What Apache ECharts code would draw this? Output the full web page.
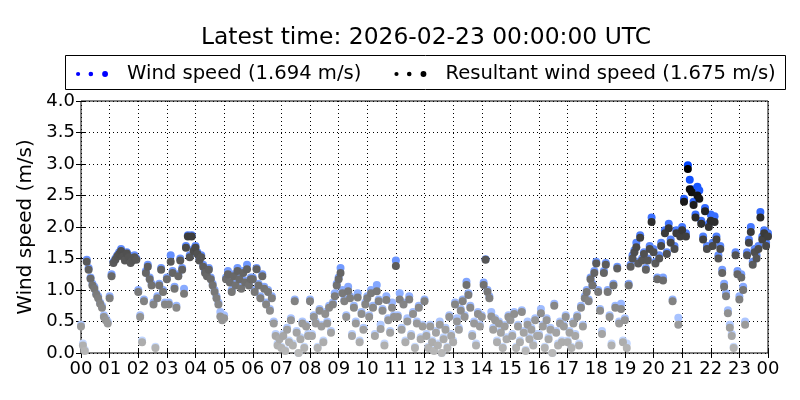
<!DOCTYPE html>
<html>
<head>
<meta charset="utf-8">
<script src="https://cdn.jsdelivr.net/npm/echarts@6/dist/echarts.min.js"></script>
<style>html,body{margin:0;padding:0;background:#fff}#c{width:800px;height:400px}</style>
</head>
<body>
<div id="c"></div>
<script>
// Sampling step in minutes (x positions = index * step)
const stepMinutes = 4;
const xTickLabels = ['00','01','02','03','04','05','06','07','08','09','10','11','12','13','14','15','16','17','18','19','20','21','22','23','00'];
const titleText = 'Latest time: 2026-02-23 00:00:00 UTC';
const seriesNames = ['Wind speed (1.694 m/s)', 'Resultant wind speed (1.675 m/s)'];

// Wind speed (m/s), one row per hour, 4-minute samples
const windSpeed = [
  0.45,0.15,0.05,1.48,1.35,1.2,1.1,1.05,0.95,0.9,0.8,0.75,0.6,0.55,0.5,
  0.9,1.25,1.45,1.5,1.55,1.6,1.65,1.55,1.5,1.6,1.55,1.45,1.5,1.55,1.5,
  1.0,0.6,0.2,0.85,1.3,1.4,1.2,1.1,0.8,0.1,0.9,1.1,1.35,1.0,0.8,
  1.2,0.8,1.55,1.3,1.05,0.75,1.25,1.5,1.35,1.02,1.7,1.87,1.55,1.87,1.65,
  1.7,1.6,1.5,1.55,1.4,1.3,1.25,1.35,1.2,1.1,1.0,0.9,0.8,0.65,0.55,
  0.6,1.2,1.3,1.15,1.0,1.25,1.1,1.35,1.2,1.05,1.3,1.15,1.4,1.1,1.2,
  1.2,1.0,1.35,1.1,0.9,1.25,1.05,0.8,1.0,0.7,0.9,0.5,0.3,0.15,0.25,
  0.1,0.3,0.05,0.4,0.2,0.55,0.15,0.85,0.35,0.0,0.25,0.5,0.1,0.45,0.3,
  0.85,0.3,0.6,0.5,0.1,0.7,0.45,0.2,0.65,0.5,0.75,0.35,0.8,0.95,1.1,
  1.2,1.35,1.0,0.85,0.6,1.05,0.9,0.3,0.75,0.5,0.95,0.2,0.65,0.4,0.8,
  0.9,0.6,1.0,0.75,0.3,1.08,0.85,0.45,0.7,0.15,0.9,0.55,0.35,0.8,0.6,
  1.47,0.6,0.95,0.4,0.8,0.2,0.55,0.9,0.3,0.65,0.1,0.5,0.75,0.25,0.45,
  0.85,0.3,0.1,0.45,0.2,0.05,0.35,0.15,0.5,0.0,0.25,0.4,0.1,0.6,0.3,
  0.2,0.8,0.55,0.4,0.7,0.85,0.6,1.13,0.95,0.75,0.3,0.5,0.15,0.65,0.45,
  0.6,1.12,1.49,1.0,0.9,0.65,0.4,0.55,0.2,0.5,0.35,0.1,0.45,0.25,0.6,
  0.55,0.3,0.65,0.1,0.45,0.2,0.68,0.35,0.05,0.5,0.25,0.4,0.15,0.55,0.3,
  0.3,0.7,0.45,0.1,0.55,0.25,0.4,0.0,0.78,0.35,0.15,0.5,0.2,0.45,0.6,
  0.2,0.35,0.1,0.5,0.3,0.6,0.15,0.75,0.45,0.9,1.0,0.85,1.2,1.1,1.3,
  1.45,1.0,0.7,0.35,1.3,1.43,1.0,0.6,0.15,1.1,0.75,1.37,0.5,0.78,0.2,
  0.55,0.15,1.1,1.4,1.55,1.63,1.75,1.45,1.87,1.5,1.6,1.35,1.5,1.7,2.15,
  1.65,1.45,1.2,1.55,1.75,1.2,1.95,1.6,2.05,1.8,0.85,1.7,1.95,0.56,1.9,
  2.0,2.45,1.9,2.98,2.75,2.6,2.4,2.2,2.64,2.58,2.1,1.85,2.3,1.7,2.05,
  2.2,1.75,2.17,1.85,1.55,1.7,1.32,1.1,0.95,0.68,0.45,0.3,0.1,1.6,1.3,
  0.9,1.25,1.05,0.5,1.6,1.8,2.0,1.45,1.65,1.55,1.7,2.24,1.85,1.95,1.75,
  1.9
];

// Resultant wind speed (m/s), same sampling
const resultantSpeed = [
  0.42,0.12,0.03,1.45,1.32,1.18,1.07,1.02,0.93,0.87,0.78,0.72,0.57,0.52,0.47,
  0.87,1.22,1.43,1.48,1.53,1.57,1.62,1.53,1.47,1.58,1.52,1.43,1.47,1.52,1.48,
  0.97,0.57,0.17,0.82,1.27,1.37,1.17,1.07,0.77,0.08,0.87,1.07,1.32,0.97,0.77,
  1.17,0.77,1.45,1.27,1.02,0.72,1.22,1.47,1.32,0.94,1.67,1.85,1.52,1.85,1.62,
  1.67,1.57,1.47,1.52,1.37,1.27,1.22,1.32,1.17,1.07,0.97,0.87,0.77,0.58,0.52,
  0.55,1.17,1.25,1.12,0.97,1.22,1.07,1.3,1.17,1.02,1.27,1.12,1.33,1.07,1.17,
  1.17,0.97,1.33,1.07,0.87,1.22,1.02,0.77,0.97,0.67,0.87,0.47,0.27,0.12,0.22,
  0.08,0.27,0.03,0.37,0.17,0.52,0.12,0.82,0.32,0.0,0.22,0.47,0.08,0.42,0.27,
  0.82,0.27,0.57,0.47,0.08,0.67,0.42,0.17,0.62,0.47,0.72,0.32,0.77,0.9,1.07,
  1.17,1.27,0.95,0.82,0.57,0.98,0.87,0.27,0.72,0.47,0.88,0.17,0.62,0.37,0.77,
  0.87,0.57,0.95,0.72,0.27,0.98,0.82,0.38,0.67,0.12,0.84,0.52,0.32,0.72,0.57,
  1.38,0.57,0.85,0.37,0.77,0.17,0.5,0.85,0.27,0.62,0.08,0.47,0.72,0.22,0.42,
  0.82,0.27,0.08,0.42,0.17,0.03,0.32,0.12,0.45,0.0,0.22,0.37,0.08,0.57,0.27,
  0.17,0.77,0.5,0.37,0.67,0.82,0.57,1.08,0.92,0.72,0.27,0.47,0.12,0.62,0.42,
  0.57,1.08,1.48,0.97,0.87,0.58,0.37,0.52,0.17,0.47,0.32,0.08,0.42,0.22,0.57,
  0.52,0.27,0.62,0.08,0.42,0.17,0.65,0.32,0.03,0.45,0.22,0.37,0.12,0.52,0.27,
  0.27,0.63,0.42,0.08,0.52,0.22,0.37,0.0,0.75,0.32,0.12,0.47,0.17,0.42,0.57,
  0.17,0.32,0.08,0.47,0.27,0.57,0.12,0.72,0.42,0.87,0.97,0.82,1.17,1.07,1.27,
  1.42,0.97,0.67,0.3,1.27,1.4,0.97,0.57,0.12,1.07,0.72,1.34,0.47,0.7,0.17,
  0.52,0.08,1.07,1.37,1.5,1.6,1.68,1.42,1.83,1.47,1.57,1.32,1.47,1.65,2.08,
  1.6,1.42,1.17,1.5,1.7,1.15,1.9,1.57,1.98,1.75,0.82,1.65,1.9,0.45,1.85,
  1.95,2.4,1.85,2.92,2.6,2.55,2.35,2.15,2.5,2.45,2.05,1.8,2.25,1.65,2.0,
  2.1,1.7,2.08,1.8,1.5,1.65,1.27,1.05,0.9,0.63,0.4,0.27,0.08,1.55,1.25,
  0.85,1.2,1.0,0.45,1.55,1.75,1.92,1.4,1.6,1.5,1.65,2.15,1.8,1.9,1.7,
  1.85
];

const toPairs = arr => arr.map((v, i) => [i * stepMinutes / 60, v]);
const font = 'DejaVu Sans';
const legendIcon = 'path://M0,4a2,2 0 1,0 4,0a2,2 0 1,0 -4,0ZM12,4a2.2,2.2 0 1,0 4.4,0a2.2,2.2 0 1,0 -4.4,0ZM25,4a2.8,2.8 0 1,0 5.6,0a2.8,2.8 0 1,0 -5.6,0Z';

const chart = echarts.init(document.getElementById('c'), null, {renderer: 'canvas'});
chart.setOption({
  animation: false,
  backgroundColor: '#fff',
  title: {
    text: titleText, left: 421, top: 21, textAlign: 'center',
    textStyle: {fontFamily: font, fontSize: 23.4, fontWeight: 'normal', color: '#000'}
  },
  graphic: [{
    type: 'rect', left: 65, top: 55, z: 0,
    shape: {width: 720, height: 34},
    style: {fill: '#fff', stroke: '#000', lineWidth: 1}
  }],
  legend: {
    left: 71, top: 59, itemWidth: 32, itemHeight: 8, itemGap: 33,
    textStyle: {fontFamily: font, fontSize: 19.6, color: '#000', padding: [0, 0, 0, 14]},
    data: [
      {name: seriesNames[0], icon: legendIcon, itemStyle: {color: '#0000ff'}},
      {name: seriesNames[1], icon: legendIcon, itemStyle: {color: '#000000'}}
    ],
    selectedMode: false, z: 5
  },
  visualMap: [
    {type: 'continuous', show: false, seriesIndex: 0, dimension: 1, min: 0, max: 3,
     inRange: {color: ['#cfe0ff', '#0044ff']}},
    {type: 'continuous', show: false, seriesIndex: 1, dimension: 1, min: 0, max: 2.8,
     inRange: {color: ['#b8b8b8', '#000000']}}
  ],
  grid: {left: 81, right: 32, top: 101, bottom: 47, show: true, borderColor: '#000', borderWidth: 1, backgroundColor: 'transparent'},
  xAxis: [{
    type: 'value', min: 0, max: 24, interval: 1,
    axisLine: {show: false},
    axisTick: {show: true, inside: true, length: 5, lineStyle: {color: '#000'}},
    axisLabel: {fontFamily: font, fontSize: 18, color: '#000', margin: 7,
      formatter: v => xTickLabels[Math.round(v)]},
    splitLine: {show: true, lineStyle: {color: '#000', type: [1, 3], width: 1}}
  }, {
    type: 'value', min: 0, max: 24, interval: 1, position: 'top',
    axisLine: {show: false}, axisLabel: {show: false}, splitLine: {show: false},
    axisTick: {show: true, inside: true, length: 5, lineStyle: {color: '#000'}}
  }],
  yAxis: [{
    type: 'value', min: 0, max: 4, interval: 0.5,
    name: 'Wind speed (m/s)', nameLocation: 'middle', nameGap: 39,
    nameTextStyle: {fontFamily: font, fontSize: 20, color: '#000'},
    axisLine: {show: false},
    axisTick: {show: true, inside: true, length: 5, lineStyle: {color: '#000'}},
    axisLabel: {fontFamily: font, fontSize: 18, color: '#000', margin: 6,
      formatter: v => v.toFixed(1)},
    splitLine: {show: true, lineStyle: {color: '#000', type: [1, 3], width: 1}}
  }, {
    type: 'value', min: 0, max: 4, interval: 0.5, position: 'right',
    axisLine: {show: false}, axisLabel: {show: false}, splitLine: {show: false},
    axisTick: {show: true, inside: true, length: 5, lineStyle: {color: '#000'}}
  }],
  series: [{
    name: seriesNames[0], type: 'scatter', symbolSize: 8,
    data: toPairs(windSpeed), itemStyle: {color: '#0000ff', opacity: 1}, z: 2
  }, {
    name: seriesNames[1], type: 'scatter', symbolSize: 8,
    data: toPairs(resultantSpeed), itemStyle: {color: '#000000', opacity: 1}, z: 3
  }]
});
</script>
</body>
</html>
